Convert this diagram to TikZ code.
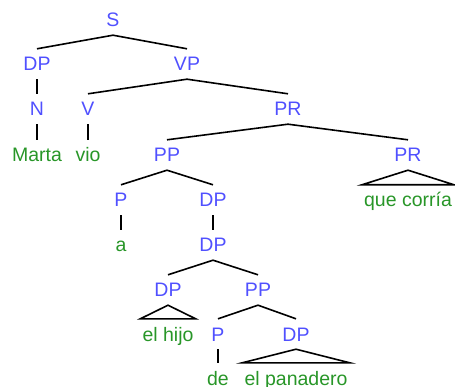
\documentclass[tikz,border=0pt]{standalone}
\usepackage{fontspec}
\setmainfont{Liberation Sans}
\definecolor{catblue}{RGB}{80,80,255}
\definecolor{wordgreen}{RGB}{40,150,40}
\begin{document}
\begin{tikzpicture}[x=1pt,y=-1pt,
  lbl/.style={inner xsep=2pt,inner ysep=8pt,text height=14pt,text depth=0pt,
    font=\fontsize{19.5}{20}\selectfont},
  cat/.style={lbl,text=catblue},
  word/.style={lbl,text=wordgreen},
  edge/.style={line width=1.6pt,black},
  vedge/.style={line width=1.1pt,black}]
\useasboundingbox (0,0) rectangle (455,387);
\node[cat] (S) at (113,20) {S};
\node[cat] (DPa) at (37,64) {DP};
\node[cat] (VP) at (187,64) {VP};
\node[cat] (N) at (37,109) {N};
\node[cat] (V) at (88,109) {V};
\node[cat] (PRa) at (288,109) {PR};
\node[word] (marta) at (37,155) {Marta};
\node[word] (vio) at (88,155) {vio};
\node[cat] (PPa) at (167,155) {PP};
\node[cat] (PRb) at (408,155) {PR};
\node[word] (que) at (408,200) {que corría};
\node[cat] (Pa) at (121,200) {P};
\node[cat] (DPb) at (213,200) {DP};
\node[word] (a) at (121,245) {a};
\node[cat] (DPc) at (213,245) {DP};
\node[cat] (DPd) at (168,290) {DP};
\node[cat] (PPb) at (258,290) {PP};
\node[word] (hijo) at (168,334) {el hijo};
\node[cat] (Pb) at (218,334) {P};
\node[cat] (DPe) at (296,334) {DP};
\node[word] (de) at (218,378) {de};
\node[word] (pan) at (296,378) {el panadero};

\draw[edge] (DPa.north) -- (S.south) -- (VP.north);
\draw[vedge] (DPa.south) -- (N.north);
\draw[vedge] (N.south) -- (marta.north);
\draw[edge] (V.north) -- (VP.south) -- (PRa.north);
\draw[vedge] (V.south) -- (vio.north);
\draw[edge] (PPa.north) -- (PRa.south) -- (PRb.north);
\draw[edge] (PRb.south) -- (que.north west) -- (que.north east) -- cycle;
\draw[edge] (Pa.north) -- (PPa.south) -- (DPb.north);
\draw[vedge] (Pa.south) -- (a.north);
\draw[vedge] (DPb.south) -- (DPc.north);
\draw[edge] (DPd.north) -- (DPc.south) -- (PPb.north);
\draw[edge] (DPd.south) -- (hijo.north west) -- (hijo.north east) -- cycle;
\draw[edge] (Pb.north) -- (PPb.south) -- (DPe.north);
\draw[vedge] (Pb.south) -- (de.north);
\draw[edge] (DPe.south) -- (pan.north west) -- (pan.north east) -- cycle;
\end{tikzpicture}
\end{document}
